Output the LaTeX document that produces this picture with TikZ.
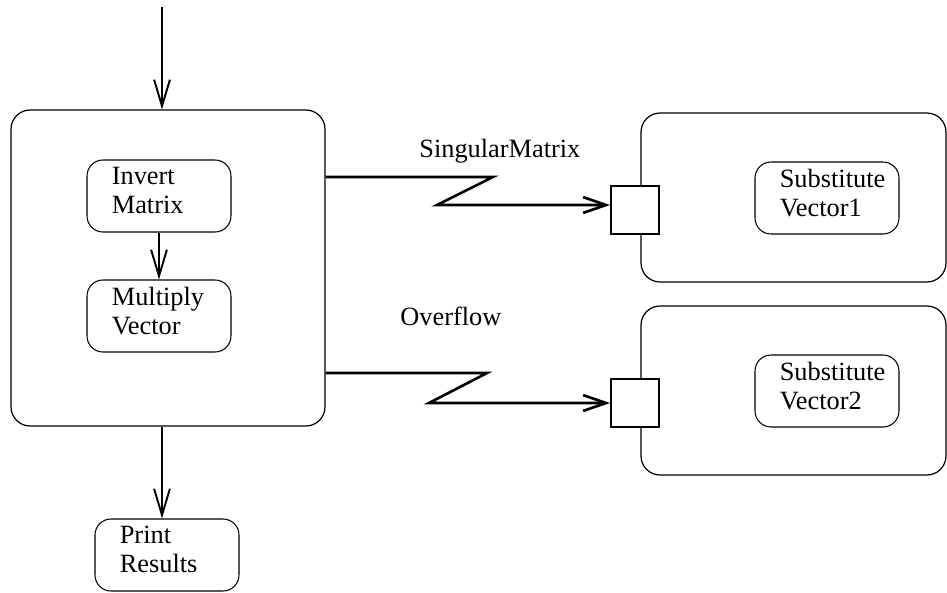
\documentclass[tikz,border=0pt]{standalone}
\usepackage{fontspec}
\setmainfont{LiberationSerif}[Extension=.ttf,UprightFont=*-Regular,BoldFont=*-Bold,ItalicFont=*-Italic]
\usepackage{tikz}
\usetikzlibrary{arrows.meta}

\begin{document}
\begin{tikzpicture}[x=0.02cm,y=-0.02cm,
    every node/.style={font=\fontsize{15}{16.5}\selectfont},
    act/.style={draw,rounded corners=0.32cm,line width=0.6pt,minimum width=2.88cm,minimum height=1.44cm},
    grp/.style={draw,rounded corners=0.38cm,line width=0.7pt},
    lbl/.style={inner sep=0pt,align=left},
    port/.style={draw,fill=white,line width=1.1pt,minimum size=0.96cm,inner sep=0pt},
    flow/.style={line width=1.1pt,-{Straight Barb[length=15pt,width=9pt]}},
    sig/.style={line width=1.5pt,line join=miter,-{Straight Barb[length=13pt,width=9pt]}}]
  \useasboundingbox (0,0) rectangle (947,592);
  \node[grp,minimum width=6.28cm,minimum height=6.32cm] (blk) at (168,268) {};
  \foreach \nm/\x/\y in {hnd1/793.5/197.5,hnd2/793.5/390.5}
    \node[grp,minimum width=6.10cm,minimum height=3.38cm] (\nm) at (\x,\y) {};
  \foreach \nm/\x/\y/\txt in {inv/159/196/{Invert\\Matrix},mul/159/316/{Multiply\\Vector},
                              prt/167/555/{Print\\Results},
                              sv1/827/198/{Substitute\\Vector1},sv2/827/391/{Substitute\\Vector2}}{
    \node[act] (\nm) at (\x,\y) {};
    \node[lbl,anchor=north west] (\nm-t) at ([xshift=0.5cm,yshift=-0.14cm]\nm.north west) {\txt};
  }
  \node[port] (sq1) at (635,210) {};
  \node[port] (sq2) at (635,403) {};
  \node[lbl,anchor=base west] (sgl) at (419,157) {SingularMatrix};
  \node[lbl,anchor=base west] (ovf) at (400,325) {Overflow};

  \coordinate (src) at (162,7);
  \draw[flow] (src) -- (src |- blk.north);
  \draw[flow] (inv) -- (mul);
  \draw[flow] (src |- blk.south) -- (src |- prt.north);
  \draw[sig] (blk.east |- 0,177) -- (493,177) -- (437,205) -- ([yshift=0.1cm]sq1.west);
  \draw[sig] (blk.east |- 0,373) -- (487,373) -- (429,403) -- (sq2.west);
\end{tikzpicture}
\end{document}
